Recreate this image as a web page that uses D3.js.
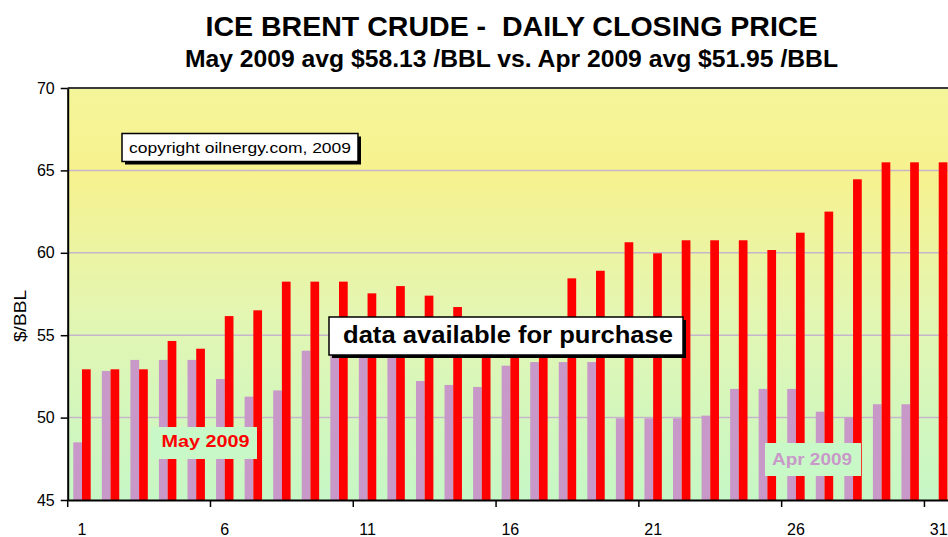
<!DOCTYPE html>
<html>
<head>
<meta charset="utf-8">
<script src="https://cdn.jsdelivr.net/npm/d3@7"></script>
<style>
  html, body { margin: 0; padding: 0; background: #ffffff; }
  svg { display: block; }
</style>
</head>
<body>
<svg id="chart" width="948" height="537"></svg>
<script>
// ---------- data ----------
const days = d3.range(1, 32); // 1..31
const may2009 = [52.93, 52.93, 52.93, 54.65, 54.18, 56.16, 56.51, 58.25, 58.25, 58.25,
                 57.54, 57.98, 57.40, 56.71, 55.60, 55.60, 55.60, 58.45, 58.91, 60.64,
                 59.97, 60.76, 60.76, 60.76, 60.17, 61.22, 62.50, 64.46, 65.49, 65.49, 65.49];
const apr2009 = [48.50, 52.83, 53.50, 53.50, 53.50, 52.34, 51.27, 51.65, 54.06, 54.06,
                 54.06, 54.06, 52.22, 51.98, 51.86, 53.15, 53.37, 53.37, 53.37, 49.96,
                 49.96, 49.96, 50.12, 51.74, 51.74, 51.74, 50.36, 50.02, 50.81, 50.81];
const yTicks = [45, 50, 55, 60, 65, 70];
const xTickLabels = [1, 6, 11, 16, 21, 26, 31];
const titleText = "ICE BRENT CRUDE -  DAILY CLOSING PRICE";
const subtitleText = "May 2009 avg $58.13 /BBL vs. Apr 2009 avg $51.95 /BBL";

// ---------- layout ----------
const svg = d3.select("#chart");
const plot = { left: 67.7, right: 953, top: 88, bottom: 500 };

const x = d3.scaleBand().domain(days).range([plot.left, plot.right]).padding(0);
const bw = x.bandwidth();
const xs = d3.scaleBand().domain(["apr", "may"]).range([0, bw]).paddingInner(0).paddingOuter(0.64);
const y = d3.scaleLinear().domain([45, 70]).range([plot.bottom, plot.top]);

// background gradient
const defs = svg.append("defs");
const grad = defs.append("linearGradient").attr("id", "bg")
  .attr("x1", 0).attr("y1", 0).attr("x2", 0).attr("y2", 1);
[[0, "#f4f59a"], [0.2, "#f7f28e"], [0.55, "#e3f6b2"], [1, "#c6f7c6"]]
  .forEach(([o, c]) => grad.append("stop").attr("offset", o).attr("stop-color", c));

svg.append("rect")
  .attr("x", plot.left).attr("y", plot.top)
  .attr("width", plot.right - plot.left).attr("height", plot.bottom - plot.top)
  .attr("fill", "url(#bg)");

// gridlines
svg.append("g").selectAll("line").data(yTicks.filter(v => v > 45 && v < 70)).join("line")
  .attr("x1", plot.left).attr("x2", plot.right)
  .attr("y1", d => y(d)).attr("y2", d => y(d))
  .attr("stroke", "#c6b6cc").attr("stroke-width", 1.5);

// bars
const aprData = apr2009.map((v, i) => ({ day: i + 1, v }));
const mayData = may2009.map((v, i) => ({ day: i + 1, v }));

svg.append("g").selectAll("rect").data(aprData).join("rect")
  .attr("x", d => x(d.day) + xs("apr"))
  .attr("y", d => y(d.v))
  .attr("width", xs.bandwidth())
  .attr("height", d => y(45) - y(d.v))
  .attr("fill", "#c899c8");

svg.append("g").selectAll("rect").data(mayData).join("rect")
  .attr("x", d => x(d.day) + xs("may"))
  .attr("y", d => y(d.v))
  .attr("width", xs.bandwidth())
  .attr("height", d => y(45) - y(d.v))
  .attr("fill", "#ff0000");

// top border
svg.append("line")
  .attr("x1", plot.left).attr("x2", plot.right)
  .attr("y1", plot.top).attr("y2", plot.top)
  .attr("stroke", "#3a3a3a").attr("stroke-width", 2);

// y axis
const yAxis = d3.axisLeft(y).tickValues(yTicks).tickSize(7).tickPadding(6).tickSizeOuter(0);
const gy = svg.append("g").attr("transform", `translate(${plot.left},0)`).call(yAxis);
gy.select(".domain").attr("stroke", "#000").attr("stroke-width", 2);
gy.selectAll(".tick line").attr("stroke", "#000").attr("stroke-width", 1.5);
gy.selectAll("text").attr("font-family", "'Liberation Sans', Arial, sans-serif")
  .attr("font-size", 16).attr("fill", "#000");

// x axis (labels at category centres)
const xAxis = d3.axisBottom(x).tickValues(xTickLabels).tickSize(0).tickPadding(24).tickSizeOuter(0);
const gx = svg.append("g").attr("transform", `translate(0,${plot.bottom})`).call(xAxis);
gx.select(".domain").attr("stroke", "#000").attr("stroke-width", 2);
gx.selectAll("text").attr("font-family", "'Liberation Sans', Arial, sans-serif")
  .attr("font-size", 16).attr("fill", "#000");
// tick marks between categories
svg.append("g").selectAll("line").data(xTickLabels).join("line")
  .attr("x1", d => x(d)).attr("x2", d => x(d))
  .attr("y1", plot.bottom).attr("y2", plot.bottom + 7)
  .attr("stroke", "#000").attr("stroke-width", 1.5);

// y axis title
svg.append("text")
  .attr("transform", "translate(26,316) rotate(-90)")
  .attr("text-anchor", "middle")
  .attr("font-family", "'Liberation Sans', Arial, sans-serif")
  .attr("font-size", 16)
  .attr("textLength", 52).attr("lengthAdjust", "spacingAndGlyphs")
  .text("$/BBL");

// titles
svg.append("text")
  .attr("x", 511.5).attr("y", 36).attr("text-anchor", "middle")
  .attr("font-family", "'Liberation Sans', Arial, sans-serif")
  .attr("font-weight", "bold").attr("font-size", 28)
  .attr("textLength", 612).attr("lengthAdjust", "spacingAndGlyphs")
  .style("white-space", "pre")
  .text(titleText);
svg.append("text")
  .attr("x", 511.5).attr("y", 67).attr("text-anchor", "middle")
  .attr("font-family", "'Liberation Sans', Arial, sans-serif")
  .attr("font-weight", "bold").attr("font-size", 23)
  .attr("textLength", 653).attr("lengthAdjust", "spacingAndGlyphs")
  .text(subtitleText);

// annotation boxes
function box(x0, y0, w, h, fill, shadow) {
  if (shadow) {
    svg.append("rect").attr("x", x0 + 3).attr("y", y0 + 3).attr("width", w).attr("height", h).attr("fill", "#000");
  }
  svg.append("rect").attr("x", x0).attr("y", y0).attr("width", w).attr("height", h)
    .attr("fill", fill).attr("stroke", shadow ? "#000" : "none").attr("stroke-width", 1.5);
}

box(122, 133.5, 236, 28, "#ffffff", true);
svg.append("text").attr("x", 240).attr("y", 153).attr("text-anchor", "middle")
  .attr("font-family", "'Liberation Sans', Arial, sans-serif").attr("font-size", 15)
  .attr("textLength", 222).attr("lengthAdjust", "spacingAndGlyphs")
  .text("copyright oilnergy.com, 2009");

box(329, 317, 354, 38, "#ffffff", true);
svg.append("text").attr("x", 508).attr("y", 343).attr("text-anchor", "middle")
  .attr("font-family", "'Liberation Sans', Arial, sans-serif").attr("font-size", 23)
  .attr("font-weight", "bold")
  .attr("textLength", 330).attr("lengthAdjust", "spacingAndGlyphs")
  .text("data available for purchase");

box(151, 427, 106, 32, "#c8f8c8", false);
svg.append("text").attr("x", 205.5).attr("y", 447).attr("text-anchor", "middle")
  .attr("font-family", "'Liberation Sans', Arial, sans-serif").attr("font-size", 16)
  .attr("font-weight", "bold").attr("fill", "#ff0000")
  .attr("textLength", 88).attr("lengthAdjust", "spacingAndGlyphs")
  .text("May 2009");

box(765, 443, 96, 33, "#c8f8c8", false);
svg.append("text").attr("x", 812).attr("y", 465).attr("text-anchor", "middle")
  .attr("font-family", "'Liberation Sans', Arial, sans-serif").attr("font-size", 16)
  .attr("font-weight", "bold").attr("fill", "#c899c8")
  .attr("textLength", 80).attr("lengthAdjust", "spacingAndGlyphs")
  .text("Apr 2009");
</script>
</body>
</html>
